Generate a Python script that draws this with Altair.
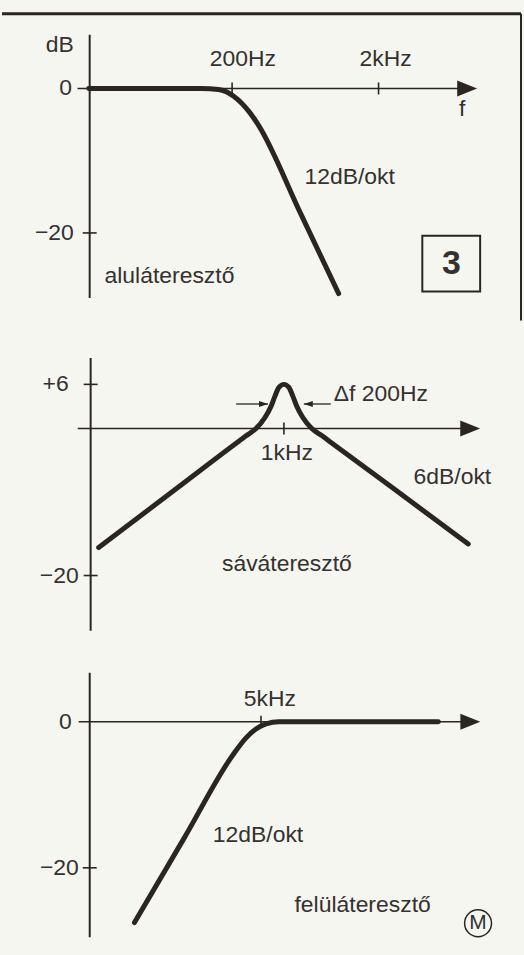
import altair as alt
import pandas as pd

# ---------------------------------------------------------------------------
# Curve data: frequency (Hz) and level (dB)
# ---------------------------------------------------------------------------
# low-pass, 200 Hz corner, 12 dB/oct
lp_freq = [21, 123, 161, 206, 261, 301, 590, 1068]
lp_db = [0, 0, -0.15, -1.1, -3.2, -5.0, -17.4, -28.4]

# band-pass, 1 kHz centre, +6 dB peak, 6 dB/oct skirts
bp_freq = [110, 277, 566, 637, 717, 798, 857, 899, 942, 1000,
           1061, 1112, 1167, 1253, 1394, 1570, 1767, 3560, 8990]
bp_db = [-16.2, -8.2, -2.0, -1.0, 0, 1.5, 3.0, 4.4, 5.6, 6.0,
         5.6, 4.4, 3.0, 1.5, 0, -0.96, -1.96, -7.87, -15.7]

# high-pass, 5 kHz corner, 12 dB/oct
hp_freq = [958, 1836, 3519, 4114, 4680, 5340, 6320, 50650]
hp_db = [-27.5, -15.9, -4.3, -2.2, -1.0, -0.3, 0, 0]

# axis extents (Hz for the f axis, dB for the level axis)
lp_faxis = [17.6, 8200]
lp_dbaxis = [7.45, -29.0]
lp_yaxis_f = 21.3
bp_faxis = [85.7, 9000]
bp_dbaxis = [9.6, -27.5]
bp_yaxis_f = 100
hp_faxis = [462, 75000]
hp_dbaxis = [6.7, -29.5]
hp_yaxis_f = 534

# arrow tips at the end of each f axis
lp_arrow_f = 9420
bp_arrow_f = 10360
hp_arrow_f = 87600

# tick marks
lp_fticks = [200, 2000]
lp_dbticks = [-20]
bp_fticks = [1000]
bp_dbticks = [6, -20]
hp_fticks = [5000]
hp_dbticks = [-20]

# labels: text, f, dB
lp_labels_c = [("dB", 13.3, 6.07), ("200Hz", 237, 4.14), ("2kHz", 2234, 4.14),
               ("f", 7450, -2.9), ("12dB/okt", 1270, -12.3)]
lp_labels_r = [("0", 16.1, 0), ("\u221220", 16.6, -20)]
lp_labels_l = [("aluláteresztő", 26.9, -25.9)]
lp_box = [(3980, 9880, -20.4, -28.1)]
lp_box_text = [("3", 6300, -24.3)]

bp_labels_c = [("1kHz", 1036, -3.35), ("6dB/okt", 7440, -6.6), ("sáváteresztő", 1036, -18.4)]
bp_labels_r = [("+6", 77.0, 6), ("\u221220", 86.7, -20)]
bp_labels_l = [("Δf  200Hz", 1810, 4.65)]
# bandwidth marker arrows: line from f to f2 at level dB
bp_bw_lines = [(566, 827, 3.33), (1268, 1747, 3.33)]
bp_bw_right_tips = [(827, 3.33)]
bp_bw_left_tips = [(1268, 3.33)]

hp_labels_c = [("5kHz", 5620, 3.1), ("12dB/okt", 4807, -15.5), ("felüláteresztő", 18850, -25.1)]
hp_labels_r = [("0", 423, 0), ("\u221220", 463, -20)]
hp_logo = [("M", 85100, -27.6)]

# ---------------------------------------------------------------------------
# Styling and panel scale set-up
# ---------------------------------------------------------------------------
INK = "#2a2522"
TEXT = "#34312e"
PAPER = "#f6f6f1"
FONT = "Liberation Sans"
W = 524

# f_ref, px of f_ref, px per decade, px of 0 dB, px per dB, panel height
PANELS = {
    "lp": dict(f_ref=200, px_ref=231, dec=147, y0=87.0, ppdb=7.25, h=320),
    "bp": dict(f_ref=1000, px_ref=283, dec=194, y0=107.3, ppdb=7.38, h=320),
    "hp": dict(f_ref=5000, px_ref=260, dec=177, y0=81.7, ppdb=7.33, h=315),
}

# arrowhead symbols with the tip at the anchor point
ARROW_BIG = "M0,0L-2,-0.8L-2,0.8Z"
ARROW_R = "M0,0L-2,-0.65L-2,0.65Z"
ARROW_L = "M0,0L2,-0.65L2,0.65Z"


def xscale(p):
    lo = p["f_ref"] * 10 ** (-p["px_ref"] / p["dec"])
    hi = p["f_ref"] * 10 ** ((W - p["px_ref"]) / p["dec"])
    return alt.Scale(type="log", domain=[lo, hi], nice=False, zero=False)


def yscale(p):
    hi = p["y0"] / p["ppdb"]
    lo = -(p["h"] - p["y0"]) / p["ppdb"]
    return alt.Scale(domain=[lo, hi], nice=False, zero=False)


def enc_xy(p, fx="f", fy="db"):
    return dict(
        x=alt.X(f"{fx}:Q", scale=xscale(p), axis=None),
        y=alt.Y(f"{fy}:Q", scale=yscale(p), axis=None),
    )


def text_layer(p, rows, align, size=23, weight="normal", font=FONT):
    df = pd.DataFrame(rows, columns=["t", "f", "db"])
    return alt.Chart(df).mark_text(
        align=align, baseline="middle", font=font, fontSize=size,
        fontWeight=weight, color=TEXT
    ).encode(text="t:N", **enc_xy(p))


def build_panel(key, freq, db, faxis, dbaxis, yaxis_f, arrow_f, fticks, dbticks,
                labels_c, labels_r, labels_l):
    p = PANELS[key]
    layers = []

    # f axis line with arrow
    ax = pd.DataFrame({"f": [faxis[0]], "f2": [faxis[1]], "db": [0]})
    layers.append(
        alt.Chart(ax).mark_rule(color=INK, strokeWidth=1.6).encode(
            x2="f2:Q", **enc_xy(p))
    )
    arr = pd.DataFrame({"f": [arrow_f], "db": [0]})
    layers.append(
        alt.Chart(arr).mark_point(shape=ARROW_BIG, size=400, filled=True,
                                  color=INK, opacity=1, strokeWidth=0).encode(**enc_xy(p))
    )
    # level axis line
    ay = pd.DataFrame({"f": [yaxis_f], "db": [dbaxis[0]], "db2": [dbaxis[1]]})
    layers.append(
        alt.Chart(ay).mark_rule(color=INK, strokeWidth=2).encode(
            y2="db2:Q", **enc_xy(p))
    )
    # ticks
    ft = pd.DataFrame({"f": fticks, "db": [0] * len(fticks)})
    layers.append(
        alt.Chart(ft).mark_tick(orient="vertical", size=12, thickness=1.6,
                                color=INK, opacity=1).encode(**enc_xy(p))
    )
    dt = pd.DataFrame({"f": [yaxis_f] * len(dbticks), "db": dbticks})
    layers.append(
        alt.Chart(dt).mark_tick(orient="horizontal", size=14, thickness=1.6,
                                color=INK, opacity=1).encode(**enc_xy(p))
    )
    # response curve
    cv = pd.DataFrame({"f": freq, "db": db})
    layers.append(
        alt.Chart(cv).mark_line(color=INK, strokeWidth=5, strokeCap="round",
                                strokeJoin="round", interpolate="monotone").encode(**enc_xy(p))
    )
    # labels
    if labels_c:
        layers.append(text_layer(p, labels_c, "center"))
    if labels_r:
        layers.append(text_layer(p, labels_r, "right"))
    if labels_l:
        layers.append(text_layer(p, labels_l, "left"))
    return p, layers


# --- low-pass panel ---------------------------------------------------------
p1, l1 = build_panel("lp", lp_freq, lp_db, lp_faxis, lp_dbaxis, lp_yaxis_f, lp_arrow_f,
                     lp_fticks, lp_dbticks, lp_labels_c, lp_labels_r, lp_labels_l)
box = pd.DataFrame(lp_box, columns=["f", "f2", "db", "db2"])
l1.append(
    alt.Chart(box).mark_rect(fill=None, stroke=INK, strokeWidth=2).encode(
        x2="f2:Q", y2="db2:Q", **enc_xy(p1))
)
l1.append(text_layer(p1, lp_box_text, "center", size=34, weight="bold"))
# page frame: top and right edge
l1.append(
    alt.Chart().mark_rule(color=INK, strokeWidth=3).encode(
        x=alt.value(0), x2=alt.value(521), y=alt.value(12))
)
l1.append(
    alt.Chart().mark_rule(color=INK, strokeWidth=2).encode(
        x=alt.value(521), y=alt.value(12), y2=alt.value(320))
)
panel1 = alt.layer(*l1).properties(width=W, height=p1["h"])

# --- band-pass panel --------------------------------------------------------
p2, l2 = build_panel("bp", bp_freq, bp_db, bp_faxis, bp_dbaxis, bp_yaxis_f, bp_arrow_f,
                     bp_fticks, bp_dbticks, bp_labels_c, bp_labels_r, bp_labels_l)
bw = pd.DataFrame(bp_bw_lines, columns=["f", "f2", "db"])
l2.append(
    alt.Chart(bw).mark_rule(color=INK, strokeWidth=1.3).encode(x2="f2:Q", **enc_xy(p2))
)
l2.append(
    alt.Chart(pd.DataFrame(bp_bw_right_tips, columns=["f", "db"])).mark_point(
        shape=ARROW_R, size=81, filled=True, color=INK, opacity=1, strokeWidth=0
    ).encode(**enc_xy(p2))
)
l2.append(
    alt.Chart(pd.DataFrame(bp_bw_left_tips, columns=["f", "db"])).mark_point(
        shape=ARROW_L, size=81, filled=True, color=INK, opacity=1, strokeWidth=0
    ).encode(**enc_xy(p2))
)
panel2 = alt.layer(*l2).properties(width=W, height=p2["h"])

# --- high-pass panel --------------------------------------------------------
p3, l3 = build_panel("hp", hp_freq, hp_db, hp_faxis, hp_dbaxis, hp_yaxis_f, hp_arrow_f,
                     hp_fticks, hp_dbticks, hp_labels_c, hp_labels_r, None)
logo = pd.DataFrame(hp_logo, columns=["t", "f", "db"])
l3.append(
    alt.Chart(logo).mark_point(shape="circle", size=729, filled=False, color=INK,
                               strokeWidth=1.5, opacity=1).encode(**enc_xy(p3))
)
l3.append(text_layer(p3, hp_logo, "center", size=21))
panel3 = alt.layer(*l3).properties(width=W, height=p3["h"])

chart = (
    alt.vconcat(panel1, panel2, panel3, spacing=0)
    .properties(background=PAPER, padding=0)
    .configure_view(stroke=None)
    .configure_concat(spacing=0)
)

chart.save("out.html", embed_options={"renderer": "svg", "actions": False})
